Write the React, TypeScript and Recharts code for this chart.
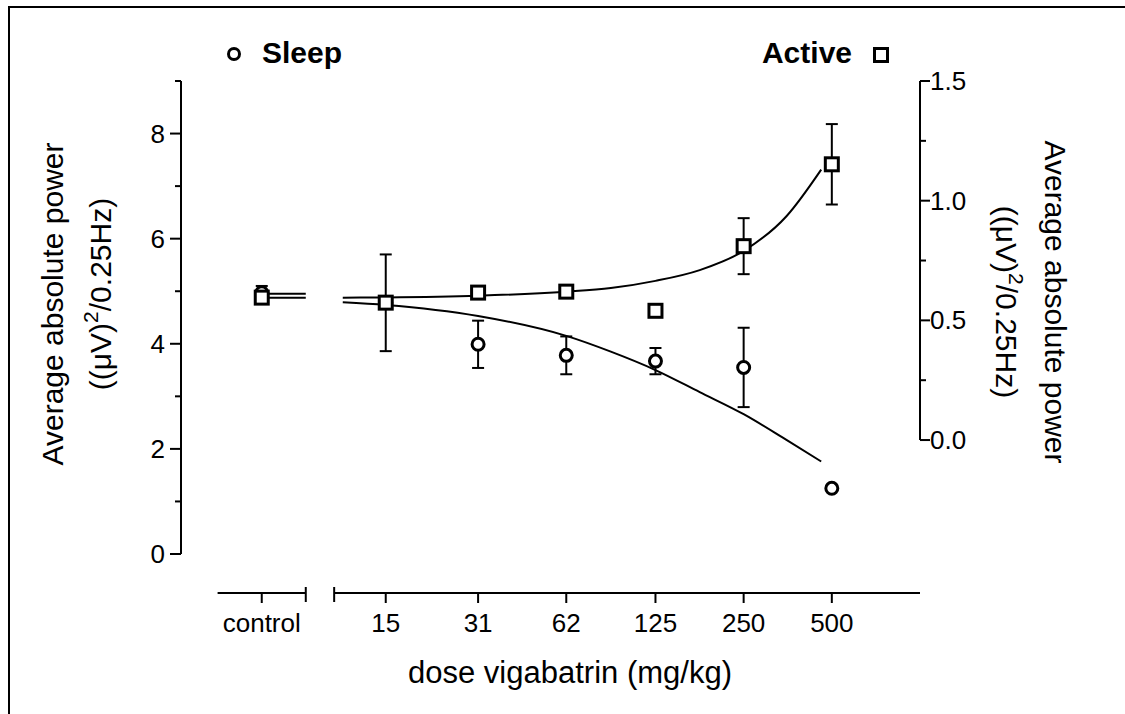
import React from 'react';
import { ComposedChart, Scatter, Line, XAxis, YAxis, ErrorBar, ReferenceLine } from 'recharts';

const FONT = '"Liberation Sans", Arial, Helvetica, sans-serif';

// ---- data ----
// dose (mg/kg); the control group sits on the short broken-axis segment
const CONTROL_POS = 5.66;
const doses = [CONTROL_POS, 15, 31, 62, 125, 250, 500];
const sleepMean = [4.97, 4.78, 3.99, 3.78, 3.67, 3.55, 1.25];
const sleepSem = [0.13, 0.92, 0.45, 0.36, 0.25, 0.755, null];
const activeMean = [0.595, 0.574, 0.616, 0.62, 0.54, 0.81, 1.152];
const activeSem = [null, null, null, null, null, 0.117, 0.168];

// fitted curves
const fitDoses = [10.7, 15, 31, 62, 88, 125, 177, 250, 350, 460];
const sleepFit = [4.79, 4.74, 4.53, 4.15, 3.85, 3.5, 3.08, 2.66, 2.17, 1.76];
const activeFit = [0.595, 0.596, 0.603, 0.62, 0.635, 0.665, 0.71, 0.79, 0.935, 1.13];

const controlFitDoses = [CONTROL_POS, 8];
const sleepControlFit = [4.95, 4.95];
const activeControlFit = [0.595, 0.595];

// axes
const X_DOMAIN = [3, 1000];
const controlSegment = [4, 8];
const doseSegment = [10, 1000];
const breakEnds = [8, 10];
const xTicks = [CONTROL_POS, 8, 10, 15, 31, 62, 125, 250, 500];
const xTickLabels = ['control', '', '', '15', '31', '62', '125', '250', '500'];

const LEFT_DOMAIN = [-0.742, 9];
const LEFT_RANGE = [0, 9];
const leftTicks = [0, 1, 2, 3, 4, 5, 6, 7, 8, 9];
const leftLabelled = [0, 2, 4, 6, 8];

const RIGHT_DOMAIN = [-0.639, 1.5];
const RIGHT_RANGE = [0, 1.5];
const rightTicks = [0, 0.25, 0.5, 0.75, 1, 1.25, 1.5];
const rightLabelled = [0, 0.5, 1, 1.5];

const sleepData = doses.map((x, i) => ({ x, y: sleepMean[i], err: sleepSem[i] }));
const activeData = doses.map((x, i) => ({ x, y: activeMean[i], err: activeSem[i] }));
const sleepFitData = fitDoses.map((x, i) => ({ x, y: sleepFit[i] }));
const activeFitData = fitDoses.map((x, i) => ({ x, y: activeFit[i] }));
const sleepCtlData = controlFitDoses.map((x, i) => ({ x, y: sleepControlFit[i] }));
const activeCtlData = controlFitDoses.map((x, i) => ({ x, y: activeControlFit[i] }));

// ---- renderers ----
const CircleShape = (props: any) => {
  const { cx, cy } = props;
  if (cx == null || cy == null) return null;
  return <circle cx={cx} cy={cy} r={6} fill="#fff" stroke="#000" strokeWidth={3} />;
};
const SquareShape = (props: any) => {
  const { cx, cy } = props;
  if (cx == null || cy == null) return null;
  return <rect x={cx - 6.5} y={cy - 6.5} width={13} height={13} fill="#fff" stroke="#000" strokeWidth={3} />;
};

const XTick = (props: any) => {
  const { x, y, payload } = props;
  const v = payload.value;
  if (breakEnds.includes(v)) {
    return <line x1={x} x2={x} y1={y - 6} y2={y + 9} stroke="#000" strokeWidth={2} />;
  }
  const idx = xTicks.indexOf(v);
  return (
    <g>
      <line x1={x} x2={x} y1={y} y2={y + 10} stroke="#000" strokeWidth={2} />
      <text x={x} y={y + 39} textAnchor="middle" fontFamily={FONT} fontSize={26} fill="#000">
        {xTickLabels[idx]}
      </text>
    </g>
  );
};

const LeftTick = (props: any) => {
  const { x, y, payload } = props;
  const v = payload.value;
  const major = leftLabelled.includes(v);
  return (
    <g>
      <line x1={x - (major ? 11 : 6)} x2={x} y1={y} y2={y} stroke="#000" strokeWidth={2} />
      {major && (
        <text x={x - 16} y={y + 9} textAnchor="end" fontFamily={FONT} fontSize={26} fill="#000">
          {String(v)}
        </text>
      )}
    </g>
  );
};

const RightTick = (props: any) => {
  const { x, y, payload } = props;
  const v = payload.value;
  const major = rightLabelled.includes(v);
  return (
    <g>
      <line x1={x} x2={x + (major ? 10 : 6)} y1={y} y2={y} stroke="#000" strokeWidth={2} />
      {major && (
        <text x={x + 10} y={y + 9} textAnchor="start" fontFamily={FONT} fontSize={26} fill="#000">
          {v.toFixed(1)}
        </text>
      )}
    </g>
  );
};

const LeftTitle = () => (
  <g fontFamily={FONT} fontSize={30} fill="#000">
    <text transform="translate(63,304) rotate(-90)" textAnchor="middle">Average absolute power</text>
    <text transform="translate(111,294) rotate(-90)" textAnchor="middle">
      <tspan>((μV)</tspan>
      <tspan dy={-13} fontSize={21}>2</tspan>
      <tspan dy={13}>/0.25Hz)</tspan>
    </text>
  </g>
);

const RightTitle = () => (
  <g fontFamily={FONT} fontSize={30} fill="#000">
    <text transform="translate(1045,302) rotate(90)" textAnchor="middle">Average absolute power</text>
    <text transform="translate(996,302) rotate(90)" textAnchor="middle">
      <tspan>((μV)</tspan>
      <tspan dy={-13} fontSize={21}>2</tspan>
      <tspan dy={13}>/0.25Hz)</tspan>
    </text>
  </g>
);

const XTitle = () => (
  <text x={570} y={683} textAnchor="middle" fontFamily={FONT} fontSize={31} fill="#000">
    dose vigabatrin (mg/kg)
  </text>
);

export default function App() {
  return (
    <div style={{ position: 'absolute', left: 0, top: 0, width: 1125, height: 714, overflow: 'hidden', background: '#fff' }}>
      <div
        style={{
          position: 'absolute', left: 8, top: 6, width: 1125, height: 714,
          borderTop: '2px solid #000', borderLeft: '2px solid #000',
        }}
      />
      <div style={{ position: 'absolute', left: 0, top: 0 }}>
        <ComposedChart width={1125} height={714} margin={{ top: 81, right: 105, bottom: 0, left: 81 }}>
          <XAxis
            xAxisId="x"
            dataKey="x"
            type="number"
            scale="log"
            domain={X_DOMAIN}
            allowDataOverflow
            ticks={xTicks}
            interval={0}
            height={121}
            axisLine={false}
            tickLine={false}
            tickSize={0}
            tickMargin={0}
            tick={<XTick />}
            label={{ content: () => <XTitle /> }}
          />
          <YAxis
            yAxisId="left"
            dataKey="y"
            type="number"
            domain={LEFT_DOMAIN}
            allowDataOverflow
            ticks={leftTicks}
            interval={0}
            width={100}
            axisLine={false}
            tickLine={false}
            tickSize={0}
            tickMargin={0}
            tick={<LeftTick />}
            label={{ content: () => <LeftTitle /> }}
          />
          <YAxis
            yAxisId="right"
            orientation="right"
            dataKey="y"
            type="number"
            domain={RIGHT_DOMAIN}
            allowDataOverflow
            ticks={rightTicks}
            interval={0}
            width={100}
            axisLine={false}
            tickLine={false}
            tickSize={0}
            tickMargin={0}
            tick={<RightTick />}
            label={{ content: () => <RightTitle /> }}
          />

          {/* axis lines */}
          <ReferenceLine xAxisId="x" yAxisId="left" ifOverflow="visible" stroke="#000" strokeWidth={2}
            segment={[{ x: X_DOMAIN[0], y: LEFT_RANGE[0] }, { x: X_DOMAIN[0], y: LEFT_RANGE[1] }]} />
          <ReferenceLine xAxisId="x" yAxisId="right" ifOverflow="visible" stroke="#000" strokeWidth={2}
            segment={[{ x: X_DOMAIN[1], y: RIGHT_RANGE[0] }, { x: X_DOMAIN[1], y: RIGHT_RANGE[1] }]} />
          <ReferenceLine xAxisId="x" yAxisId="left" ifOverflow="visible" stroke="#000" strokeWidth={2}
            segment={[{ x: controlSegment[0], y: LEFT_DOMAIN[0] }, { x: controlSegment[1], y: LEFT_DOMAIN[0] }]} />
          <ReferenceLine xAxisId="x" yAxisId="left" ifOverflow="visible" stroke="#000" strokeWidth={2}
            segment={[{ x: doseSegment[0], y: LEFT_DOMAIN[0] }, { x: doseSegment[1], y: LEFT_DOMAIN[0] }]} />

          {/* fitted curves */}
          <Line xAxisId="x" yAxisId="left" data={sleepFitData} dataKey="y" type="monotone" stroke="#000" strokeWidth={2} dot={false} activeDot={false} isAnimationActive={false} />
          <Line xAxisId="x" yAxisId="right" data={activeFitData} dataKey="y" type="monotone" stroke="#000" strokeWidth={2} dot={false} activeDot={false} isAnimationActive={false} />
          <Line xAxisId="x" yAxisId="left" data={sleepCtlData} dataKey="y" type="linear" stroke="#000" strokeWidth={2} dot={false} activeDot={false} isAnimationActive={false} />
          <Line xAxisId="x" yAxisId="right" data={activeCtlData} dataKey="y" type="linear" stroke="#000" strokeWidth={2} dot={false} activeDot={false} isAnimationActive={false} />

          {/* observations */}
          <Scatter xAxisId="x" yAxisId="left" name="Sleep" data={sleepData} dataKey="y" shape={CircleShape} isAnimationActive={false}>
            <ErrorBar dataKey="err" direction="y" width={6} strokeWidth={2} stroke="#000" />
          </Scatter>
          <Scatter xAxisId="x" yAxisId="right" name="Active" data={activeData} dataKey="y" shape={SquareShape} isAnimationActive={false}>
            <ErrorBar dataKey="err" direction="y" width={6} strokeWidth={2} stroke="#000" />
          </Scatter>
        </ComposedChart>
      </div>
      <svg width={1125} height={90} style={{ position: 'absolute', left: 0, top: 0, pointerEvents: 'none' }}>
        <circle cx={234} cy={54} r={5.5} fill="#fff" stroke="#000" strokeWidth={3} />
        <text x={262} y={63} fontFamily={FONT} fontWeight="bold" fontSize={30} fill="#000">Sleep</text>
        <text x={852} y={63} textAnchor="end" fontFamily={FONT} fontWeight="bold" fontSize={30} fill="#000">Active</text>
        <rect x={874.5} y={48.5} width={13} height={13} fill="#fff" stroke="#000" strokeWidth={3} />
      </svg>
    </div>
  );
}
